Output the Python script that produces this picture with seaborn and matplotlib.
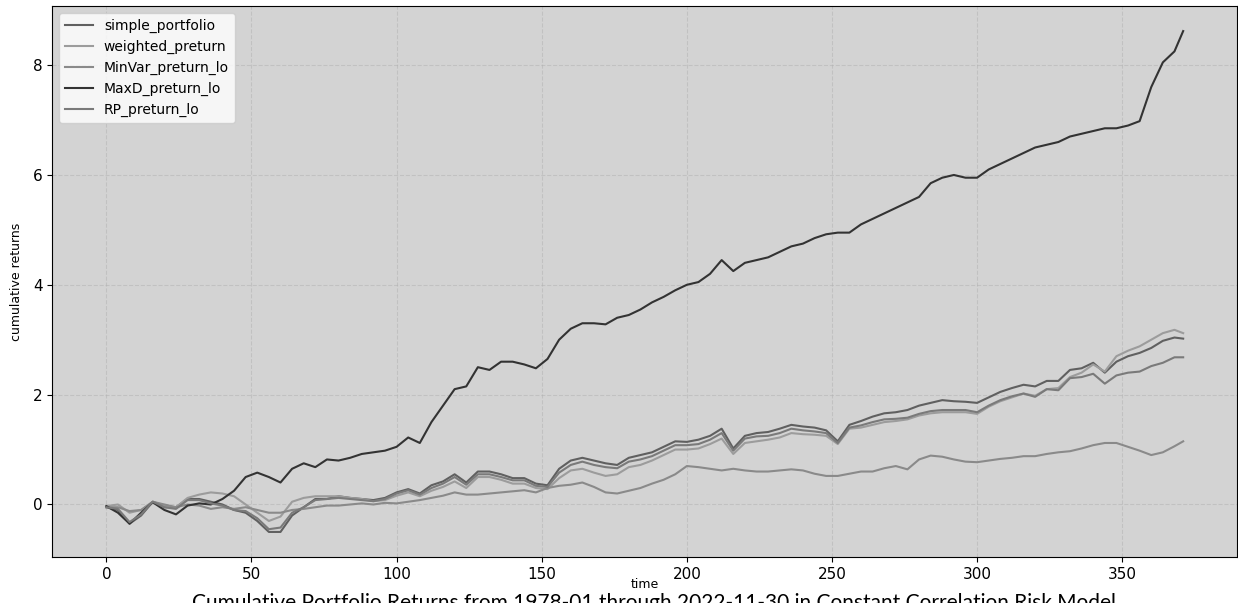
import pandas as pd
import matplotlib
matplotlib.use('Agg')
import matplotlib.pyplot as plt
import seaborn as sns

# time steps (months), every 4th step plus the last one
time = list(range(0, 372, 4)) + [371]

simple_portfolio = [-0.05, -0.1, -0.35, -0.2, 0.05, -0.05, -0.05, 0.1, 0.1, 0.05,
                    0.0, -0.1, -0.15, -0.3, -0.5, -0.5, -0.2, -0.05, 0.1, 0.1,
                    0.15, 0.12, 0.1, 0.08, 0.12, 0.22, 0.28, 0.2, 0.35, 0.42,
                    0.55, 0.4, 0.6, 0.6, 0.55, 0.48, 0.48, 0.38, 0.35, 0.65,
                    0.8, 0.85, 0.8, 0.75, 0.72, 0.85, 0.9, 0.95, 1.05, 1.15,
                    1.14, 1.18, 1.25, 1.38, 1.02, 1.25, 1.3, 1.32, 1.38, 1.45,
                    1.42, 1.4, 1.35, 1.15, 1.45, 1.52, 1.6, 1.66, 1.68, 1.72,
                    1.8, 1.85, 1.9, 1.88, 1.87, 1.85, 1.95, 2.05, 2.12, 2.18,
                    2.15, 2.25, 2.25, 2.45, 2.48, 2.58, 2.4, 2.6, 2.7, 2.76,
                    2.85, 2.98, 3.04, 3.02]

weighted_preturn = [-0.03, 0.0, -0.15, -0.1, 0.05, -0.02, -0.05, 0.12, 0.18, 0.22,
                    0.2, 0.15, 0.0, -0.15, -0.3, -0.22, 0.05, 0.12, 0.15, 0.15,
                    0.15, 0.12, 0.1, 0.06, 0.08, 0.16, 0.22, 0.15, 0.25, 0.32,
                    0.42, 0.3, 0.5, 0.5, 0.45, 0.38, 0.38, 0.3, 0.28, 0.48,
                    0.62, 0.65, 0.58, 0.52, 0.55, 0.68, 0.72, 0.8, 0.9, 1.0,
                    1.0, 1.02, 1.1, 1.2, 0.92, 1.12, 1.15, 1.18, 1.22, 1.3,
                    1.28, 1.27, 1.25, 1.1, 1.38, 1.4, 1.45, 1.5, 1.52, 1.55,
                    1.62, 1.66, 1.68, 1.68, 1.68, 1.65, 1.78, 1.88, 1.95, 2.02,
                    1.98, 2.1, 2.12, 2.32, 2.4, 2.55, 2.42, 2.7, 2.8, 2.88,
                    3.0, 3.12, 3.18, 3.12]

MinVar_preturn_lo = [-0.05, -0.05, -0.12, -0.1, 0.05, 0.0, -0.05, 0.0, -0.02, -0.08,
                     -0.05, -0.08, -0.05, -0.1, -0.15, -0.15, -0.1, -0.08, -0.05, -0.02,
                     -0.02, 0.0, 0.02, 0.0, 0.03, 0.02, 0.05, 0.08, 0.12, 0.16,
                     0.22, 0.18, 0.18, 0.2, 0.22, 0.24, 0.26, 0.22, 0.3, 0.34,
                     0.36, 0.4, 0.32, 0.22, 0.2, 0.25, 0.3, 0.38, 0.45, 0.55,
                     0.7, 0.68, 0.65, 0.62, 0.65, 0.62, 0.6, 0.6, 0.62, 0.64,
                     0.62, 0.56, 0.52, 0.52, 0.56, 0.6, 0.6, 0.66, 0.7, 0.64,
                     0.82, 0.89, 0.87, 0.82, 0.78, 0.77, 0.8, 0.83, 0.85, 0.88,
                     0.88, 0.92, 0.95, 0.97, 1.02, 1.08, 1.12, 1.12, 1.05, 0.98,
                     0.9, 0.95, 1.06, 1.15]

MaxD_preturn_lo = [-0.03, -0.15, -0.35, -0.15, 0.04, -0.1, -0.18, -0.02, 0.02, 0.0,
                   0.1, 0.25, 0.5, 0.58, 0.5, 0.4, 0.65, 0.75, 0.68, 0.82,
                   0.8, 0.85, 0.92, 0.95, 0.98, 1.05, 1.22, 1.12, 1.5, 1.8,
                   2.1, 2.15, 2.5, 2.45, 2.6, 2.6, 2.55, 2.48, 2.65, 3.0,
                   3.2, 3.3, 3.3, 3.28, 3.4, 3.45, 3.55, 3.68, 3.78, 3.9,
                   4.0, 4.05, 4.2, 4.45, 4.25, 4.4, 4.45, 4.5, 4.6, 4.7,
                   4.75, 4.85, 4.92, 4.95, 4.95, 5.1, 5.2, 5.3, 5.4, 5.5,
                   5.6, 5.85, 5.95, 6.0, 5.95, 5.95, 6.1, 6.2, 6.3, 6.4,
                   6.5, 6.55, 6.6, 6.7, 6.75, 6.8, 6.85, 6.85, 6.9, 6.98,
                   7.6, 8.05, 8.25, 8.62]

RP_preturn_lo = [-0.05, -0.08, -0.32, -0.18, 0.05, -0.05, -0.08, 0.08, 0.08, 0.02,
                 -0.02, -0.1, -0.12, -0.25, -0.45, -0.42, -0.15, -0.05, 0.08, 0.1,
                 0.12, 0.1, 0.08, 0.06, 0.1, 0.2, 0.26, 0.18, 0.3, 0.38,
                 0.5, 0.36, 0.55, 0.55, 0.5, 0.44, 0.44, 0.34, 0.32, 0.58,
                 0.72, 0.78, 0.72, 0.68, 0.66, 0.78, 0.82, 0.88, 0.98, 1.08,
                 1.08, 1.1, 1.18, 1.3, 0.98, 1.2, 1.24, 1.25, 1.3, 1.38,
                 1.35, 1.33, 1.3, 1.12, 1.4, 1.44, 1.5, 1.55, 1.56, 1.58,
                 1.65, 1.7, 1.72, 1.72, 1.72, 1.68, 1.8, 1.9, 1.97, 2.02,
                 1.96, 2.1, 2.08, 2.3, 2.32, 2.38, 2.2, 2.35, 2.4, 2.42,
                 2.52, 2.58, 2.68, 2.68]

series_names = ['simple_portfolio', 'weighted_preturn', 'MinVar_preturn_lo',
                'MaxD_preturn_lo', 'RP_preturn_lo']
line_colors = ['#606060', '#9c9c9c', '#8a8a8a', '#333333', '#7a7a7a']

# wide table -> long table for seaborn
df = pd.DataFrame({
    'time': time,
    'simple_portfolio': simple_portfolio,
    'weighted_preturn': weighted_preturn,
    'MinVar_preturn_lo': MinVar_preturn_lo,
    'MaxD_preturn_lo': MaxD_preturn_lo,
    'RP_preturn_lo': RP_preturn_lo,
})
df_long = df.melt(id_vars='time', var_name='series', value_name='cumulative returns')

fig = plt.figure(figsize=(12.38, 6.03), dpi=100)
ax = fig.add_axes([0.0424, 0.0763, 0.9568, 0.9137])
ax.set_facecolor('lightgray')

sns.lineplot(data=df_long, x='time', y='cumulative returns', hue='series',
             hue_order=series_names, palette=line_colors, estimator=None,
             linewidth=1.5, ax=ax)

# grid and labels
ax.grid(True, linestyle='--', alpha=0.5)
ax.tick_params(axis='both', labelsize=11)
ax.set_xlabel('time', fontsize=9, labelpad=-3)
ax.set_ylabel('cumulative returns', fontsize=9, labelpad=7)

handles, labels = ax.get_legend_handles_labels()
ax.legend(handles, labels, loc='upper left', fontsize=10)

# caption under the chart (cut by the lower edge, as in the source)
fig.text(0.528, 0.0165,
         'Cumulative Portfolio Returns from 1978-01 through 2022-11-30 in Constant Correlation Risk Model',
         ha='center', va='top', fontsize=15, family='Lato')

fig.savefig('out.png', dpi=100)
